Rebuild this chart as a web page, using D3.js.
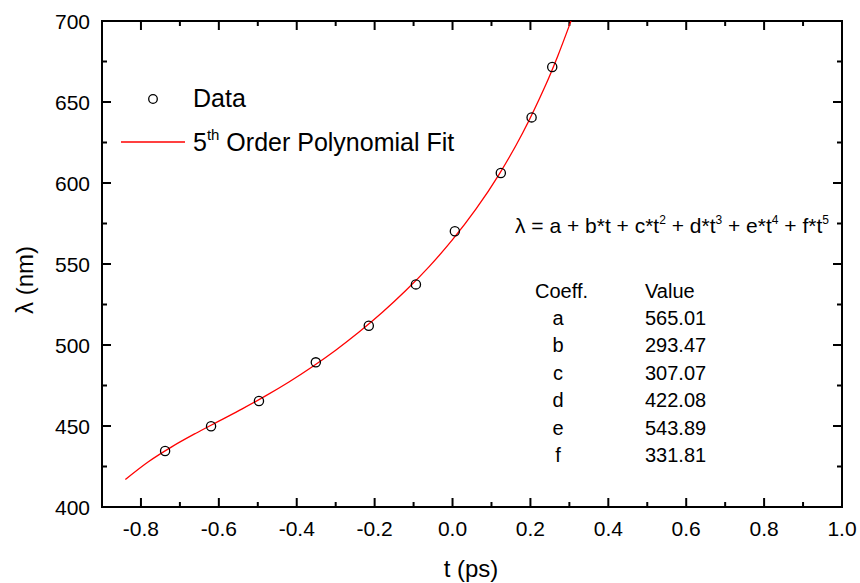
<!DOCTYPE html>
<html>
<head>
<meta charset="utf-8">
<script src="https://cdn.jsdelivr.net/npm/d3@7"></script>
<style>
  body { margin: 0; background: #fff; }
  text { font-family: Arial, "Liberation Sans", sans-serif; fill: #000; }
</style>
</head>
<body>
<div id="chart"></div>
<script>
// measured data points (t in ps, lambda in nm)
let dataT = [-0.738, -0.620, -0.497, -0.351, -0.215, -0.094, 0.006, 0.124, 0.203, 0.256];
let dataL = [434.6, 449.8, 465.4, 489.3, 511.9, 537.4, 570.2, 606.2, 640.5, 671.6];

// red fit curve read along its length
let fitT = [-0.84, -0.78, -0.72, -0.66, -0.60, -0.54, -0.48, -0.42, -0.36, -0.30, -0.24,
            -0.18, -0.12, -0.06, 0.00, 0.06, 0.12, 0.18, 0.24, 0.27, 0.30, 0.31];
let fitL = [417.0, 428.1, 437.3, 445.4, 453.0, 460.6, 468.6, 477.2, 486.6, 496.8, 508.0,
            520.2, 533.6, 548.4, 565.0, 583.8, 605.5, 630.9, 661.0, 678.3, 697.3, 704.0];

let coeffNames = ["a", "b", "c", "d", "e", "f"];
let coeffValues = ["565.01", "293.47", "307.07", "422.08", "543.89", "331.81"];

let xTicks = [-0.8, -0.6, -0.4, -0.2, 0.0, 0.2, 0.4, 0.6, 0.8, 1.0];
let yTicks = [400, 450, 500, 550, 600, 650, 700];

let W = 860, H = 583;
let svg = d3.select("#chart").append("svg")
    .attr("width", W)
    .attr("height", H);

let x = d3.scaleLinear().domain([-0.9, 1.0]).range([102, 842]);
let y = d3.scaleLinear().domain([400, 700]).range([507, 21]);

let x0 = x.range()[0], x1 = x.range()[1], y0 = y.range()[0], y1 = y.range()[1];

svg.append("clipPath").attr("id", "plotclip")
    .append("rect")
    .attr("x", x0).attr("y", y1)
    .attr("width", x1 - x0).attr("height", y0 - y1);

// ticks (inward on all four sides)
let xMinor = d3.range(-0.9, 1.0001, 0.1).map(v => +v.toFixed(2));
let yMinor = d3.range(400, 701, 25);
let tickG = svg.append("g").attr("stroke", "#000").attr("stroke-width", 2);

xMinor.forEach(v => {
    let major = xTicks.some(t => Math.abs(t - v) < 1e-6);
    let len = major ? 9 : 5;
    tickG.append("line").attr("x1", x(v)).attr("x2", x(v)).attr("y1", y0).attr("y2", y0 - len);
    tickG.append("line").attr("x1", x(v)).attr("x2", x(v)).attr("y1", y1).attr("y2", y1 + len);
});
yMinor.forEach(v => {
    let len = (v % 50 === 0) ? 9 : 5;
    tickG.append("line").attr("y1", y(v)).attr("y2", y(v)).attr("x1", x0).attr("x2", x0 + len);
    tickG.append("line").attr("y1", y(v)).attr("y2", y(v)).attr("x1", x1).attr("x2", x1 - len);
});

// frame
svg.append("rect")
    .attr("x", x0).attr("y", y1)
    .attr("width", x1 - x0).attr("height", y0 - y1)
    .attr("fill", "none")
    .attr("stroke", "#000")
    .attr("stroke-width", 2);

// tick labels
svg.selectAll("text.xtick")
    .data(xTicks)
    .enter().append("text")
    .attr("class", "xtick")
    .attr("x", d => x(d))
    .attr("y", 536)
    .attr("text-anchor", "middle")
    .attr("font-size", "21px")
    .text(d => d3.format(".1f")(d).replace("−", "-"));

svg.selectAll("text.ytick")
    .data(yTicks)
    .enter().append("text")
    .attr("class", "ytick")
    .attr("x", 90)
    .attr("y", d => y(d) + 8)
    .attr("text-anchor", "end")
    .attr("font-size", "21px")
    .text(d => d);

// axis titles
svg.append("text")
    .attr("x", 471)
    .attr("y", 577)
    .attr("text-anchor", "middle")
    .attr("font-size", "24px")
    .text("t (ps)");

svg.append("text")
    .attr("transform", "translate(33, 280) rotate(-90)")
    .attr("text-anchor", "middle")
    .attr("font-size", "24px")
    .text("λ (nm)");

// fit curve
let line = d3.line()
    .x(d => x(d[0]))
    .y(d => y(d[1]))
    .curve(d3.curveCatmullRom);

svg.append("path")
    .datum(fitT.map((t, i) => [t, fitL[i]]))
    .attr("clip-path", "url(#plotclip)")
    .attr("fill", "none")
    .attr("stroke", "#ff0000")
    .attr("stroke-width", 1.3)
    .attr("d", line);

// data points
svg.selectAll("circle.pt")
    .data(dataT.map((t, i) => [t, dataL[i]]))
    .enter().append("circle")
    .attr("class", "pt")
    .attr("cx", d => x(d[0]))
    .attr("cy", d => y(d[1]))
    .attr("r", 4.6)
    .attr("fill", "none")
    .attr("stroke", "#000")
    .attr("stroke-width", 1.3);

// legend
svg.append("circle")
    .attr("cx", 153).attr("cy", 99).attr("r", 4.3)
    .attr("fill", "none").attr("stroke", "#000").attr("stroke-width", 1.3);
svg.append("text")
    .attr("x", 193).attr("y", 107)
    .attr("font-size", "25px")
    .text("Data");

svg.append("line")
    .attr("x1", 121).attr("x2", 185).attr("y1", 142).attr("y2", 142)
    .attr("stroke", "#ff0000").attr("stroke-width", 1.3);
let fitLabel = svg.append("text")
    .attr("x", 193).attr("y", 151)
    .attr("font-size", "25px");
fitLabel.append("tspan").text("5");
fitLabel.append("tspan").attr("font-size", "15px").attr("dy", -11).text("th");
fitLabel.append("tspan").attr("dy", 11).text(" Order Polynomial Fit");

// equation
let eq = svg.append("text")
    .attr("x", 515).attr("y", 233)
    .attr("font-size", "21px");
let eqParts = [["λ = a + b*t + c*t", "2"], [" + d*t", "3"], [" + e*t", "4"], [" + f*t", "5"]];
eqParts.forEach((p, i) => {
    eq.append("tspan").attr("dy", i === 0 ? 0 : 9).text(p[0]);
    eq.append("tspan").attr("font-size", "12px").attr("dy", -9).text(p[1]);
});

// coefficient table
svg.append("text")
    .attr("x", 535).attr("y", 298)
    .attr("font-size", "20px")
    .text("Coeff.");
svg.append("text")
    .attr("x", 645).attr("y", 298)
    .attr("font-size", "20px")
    .text("Value");

svg.selectAll("text.cname")
    .data(coeffNames)
    .enter().append("text")
    .attr("class", "cname")
    .attr("x", 558)
    .attr("y", (d, i) => 325 + i * 27.4)
    .attr("text-anchor", "middle")
    .attr("font-size", "20px")
    .text(d => d);

svg.selectAll("text.cval")
    .data(coeffValues)
    .enter().append("text")
    .attr("class", "cval")
    .attr("x", 645)
    .attr("y", (d, i) => 325 + i * 27.4)
    .attr("font-size", "20px")
    .text(d => d);
</script>
</body>
</html>
